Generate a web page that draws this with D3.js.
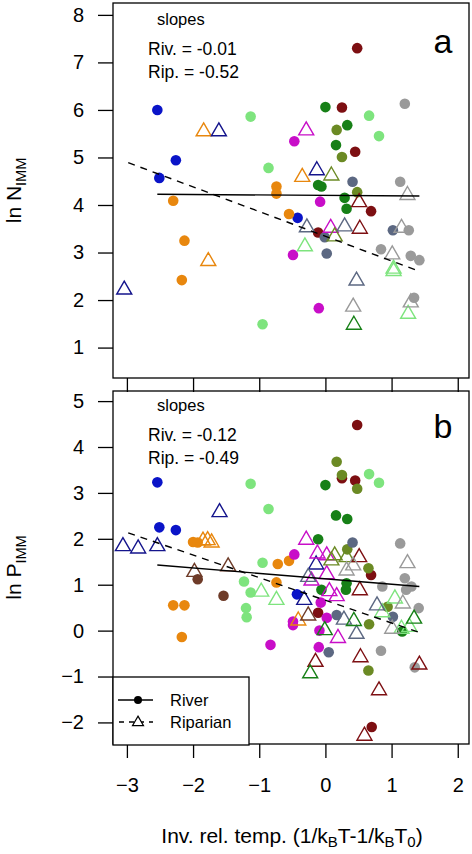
<!DOCTYPE html>
<html><head><meta charset="utf-8">
<script src="https://cdn.jsdelivr.net/npm/d3@7"></script>
<style>body{margin:0;background:#fff}svg{display:block;font-family:"Liberation Sans",Arial,sans-serif}</style>
</head><body><div id="c"></div>
<script>
// ---- data ----
const xTicks = [-3,-2,-1,0,1,2];
const aTicks = [1,2,3,4,5,6,7,8];
const bTicks = [-2,-1,0,1,2,3,4,5];
const slopesA = {riv:"-0.01", rip:"-0.52"};
const slopesB = {riv:"-0.12", rip:"-0.49"};
// fitted lines [x0,y0,x1,y1]
const aRiverLine = [-2.54,4.225,1.42,4.19];
const aRipLine = [-2.98,4.89,1.39,2.62];
const bRiverLine = [-2.54,1.43,1.42,0.96];
const bRipLine = [-2.98,2.13,1.42,-0.04];
// points [x, y, group]
const aRiver = [
 [-2.54,6.0,"blue"],[-2.26,4.94,"blue"],[-2.51,4.57,"blue"],[-0.42,3.73,"blue"],
 [-2.30,4.09,"orange"],[-2.13,3.25,"orange"],[-2.17,2.42,"orange"],[-0.74,4.39,"orange"],[-0.74,4.24,"orange"],[-0.55,3.81,"orange"],
 [-1.13,5.86,"lgreen"],[-0.86,4.78,"lgreen"],[-0.95,1.49,"lgreen"],[0.66,5.88,"lgreen"],[0.81,5.45,"lgreen"],
 [0.0,6.06,"dgreen"],[0.33,5.68,"dgreen"],[0.16,5.26,"dgreen"],[-0.11,4.42,"dgreen"],[-0.06,4.39,"dgreen"],[0.29,4.15,"dgreen"],[0.32,3.92,"dgreen"],
 [0.25,6.05,"dred"],[0.48,7.30,"dred"],[0.45,5.12,"dred"],[0.69,3.87,"dred"],[-0.11,3.42,"dred"],
 [0.17,5.58,"olive"],[0.25,5.01,"olive"],[0.48,4.27,"olive"],
 [-0.47,5.34,"magenta"],[-0.08,4.07,"magenta"],[-0.49,2.95,"magenta"],[-0.10,1.83,"magenta"],
 [0.41,4.49,"slate"],[-0.01,3.32,"slate"],[0.02,2.98,"slate"],[1.02,3.47,"slate"],
 [1.20,6.13,"gray"],[1.13,4.49,"gray"],[1.26,3.47,"gray"],[0.84,3.07,"gray"],[1.29,2.93,"gray"],[1.42,2.84,"gray"],[1.34,2.05,"gray"]
];
const aRiparian = [
 [-1.84,5.56,"orange"],[-1.77,2.83,"orange"],[-0.35,4.60,"orange"],
 [-1.61,5.56,"navy"],[-3.04,2.23,"navy"],[-0.13,4.74,"navy"],
 [-0.29,5.58,"magenta"],[0.08,3.53,"magenta"],
 [0.09,4.63,"olive"],[0.14,3.35,"olive"],
 [0.51,4.07,"dred"],[0.52,3.51,"dred"],
 [-0.28,3.54,"slate"],[0.29,3.56,"slate"],[0.47,2.42,"slate"],
 [-0.31,3.14,"lgreen"],[1.03,2.67,"lgreen"],[1.03,2.62,"lgreen"],[1.25,1.72,"lgreen"],
 [1.24,4.22,"gray"],[1.15,3.53,"gray"],[1.01,2.97,"gray"],[1.29,1.96,"gray"],[0.42,1.87,"gray"],
 [0.43,1.49,"dgreen"]
];
const bRiver = [
 [-2.54,3.23,"blue"],[-2.51,2.25,"blue"],[-2.26,2.19,"blue"],[-0.43,0.79,"blue"],
 [-2.0,1.93,"orange"],[-1.93,1.92,"orange"],[-0.72,1.45,"orange"],[-0.55,1.52,"orange"],[-0.74,1.05,"orange"],[-2.30,0.55,"orange"],[-2.13,0.55,"orange"],[-2.17,-0.14,"orange"],
 [-1.13,3.20,"lgreen"],[-0.86,2.65,"lgreen"],[-0.95,1.48,"lgreen"],[-1.23,1.07,"lgreen"],[-1.13,0.83,"lgreen"],[-1.20,0.49,"lgreen"],[-1.19,0.29,"lgreen"],[0.66,3.41,"lgreen"],[0.81,3.22,"lgreen"],
 [-1.93,1.12,"brown"],[-1.54,0.76,"brown"],
 [0.48,4.48,"dred"],[0.25,3.32,"dred"],[0.45,3.27,"dred"],[0.69,1.21,"dred"],[-0.11,0.39,"dred"],[0.70,-2.10,"dred"],
 [0.17,3.68,"olive"],[0.25,3.39,"olive"],[0.48,3.09,"olive"],[0.33,1.77,"olive"],[0.65,1.36,"olive"],[0.94,0.52,"olive"],[0.66,0.14,"olive"],[0.65,-0.87,"olive"],
 [0.0,3.17,"dgreen"],[0.16,2.51,"dgreen"],[0.33,2.43,"dgreen"],[-0.11,1.99,"dgreen"],[-0.06,0.89,"dgreen"],[0.32,1.03,"dgreen"],[0.31,0.89,"dgreen"],[1.16,-0.02,"dgreen"],
 [-0.47,1.66,"magenta"],[-0.07,0.61,"magenta"],[0.02,0.28,"magenta"],[-0.49,0.20,"magenta"],[-0.49,0.12,"magenta"],[-0.09,0.0,"magenta"],[-0.83,-0.31,"magenta"],[-0.10,-0.36,"magenta"],
 [0.41,1.92,"slate"],[0.17,0.34,"slate"],[1.02,0.30,"slate"],[0.05,-0.47,"slate"],
 [1.13,1.90,"gray"],[0.86,0.96,"gray"],[1.20,1.14,"gray"],[1.22,0.89,"gray"],[1.30,0.96,"gray"],[1.41,0.49,"gray"],[0.84,-0.44,"gray"],[1.35,-0.80,"gray"]
];
const bRiparian = [
 [-1.60,2.59,"navy"],[-3.06,1.85,"navy"],[-2.83,1.80,"navy"],[-2.54,1.85,"navy"],[-0.14,1.45,"navy"],[-0.32,0.68,"navy"],
 [-1.85,1.97,"orange"],[-1.78,1.98,"orange"],[-1.72,1.93,"orange"],[-0.41,0.23,"orange"],
 [-1.98,1.29,"brown"],[-1.47,1.41,"brown"],[-0.26,0.34,"brown"],
 [-0.97,0.86,"lgreen"],[-0.74,0.68,"lgreen"],[0.86,0.41,"lgreen"],[1.05,0.71,"lgreen"],[1.27,0.09,"lgreen"],[1.15,0.05,"lgreen"],
 [-0.29,1.99,"magenta"],[-0.12,1.69,"magenta"],[0.02,1.65,"magenta"],[0.02,1.24,"magenta"],[-0.21,1.10,"magenta"],[0.06,0.87,"magenta"],[0.17,0.76,"magenta"],[0.19,-0.15,"magenta"],
 [0.14,1.65,"olive"],[0.09,1.54,"olive"],[0.32,1.61,"olive"],
 [0.51,1.61,"dred"],[0.52,0.89,"dred"],[-0.15,-0.67,"dred"],[0.53,-0.57,"dred"],[1.42,-0.73,"dred"],[0.81,-1.29,"dred"],[0.59,-2.28,"dred"],
 [1.24,1.48,"gray"],[0.32,1.32,"gray"],[0.42,1.43,"gray"],[1.17,0.60,"gray"],[1.01,0.05,"gray"],
 [-0.26,1.18,"slate"],[0.28,0.25,"slate"],[0.78,0.56,"slate"],[0.47,-0.06,"slate"],
 [0.43,0.22,"dgreen"],[1.34,0.27,"dgreen"],[-0.01,0.02,"dgreen"],[-0.23,-0.92,"dgreen"]
];
// ---- styles ----
const colors = {blue:"#0a14c8",navy:"#14148c",orange:"#e8870e",lgreen:"#7ee47e",dgreen:"#178017",
  dred:"#7d0f12",olive:"#6b8a24",magenta:"#c80ec8",slate:"#5c6882",gray:"#9a9a9a",brown:"#6e3b28"};

const W=472,H=854;
const svg=d3.select("#c").append("svg").attr("width",W).attr("height",H);
const x=d3.scaleLinear().domain([-3.21,2.17]).range([113,469]);
const yA=d3.scaleLinear().domain([0.36,8.25]).range([378,3]);
const yB=d3.scaleLinear().domain([-2.47,5.22]).range([744,391]);
const FS=20;

function tri(cx,cy,s){const h=s*0.866;return `M${cx},${cy-h*0.62}L${cx+s/2},${cy+h*0.38}L${cx-s/2},${cy+h*0.38}Z`;}

function panel(y,ticks,river,rip,rl,pl,sl,letter,labelMain,showXLabels,letterY,slY){
  const g=svg.append("g");
  const ay=g.append("g").attr("transform",`translate(113,0)`).call(d3.axisLeft(y).tickValues(ticks).tickSize(15).tickPadding(14).tickFormat(d3.format("d")));
  ay.select(".domain").remove();
  ay.selectAll("line").attr("stroke","#000").attr("stroke-width",1.3);
  ay.selectAll("text").attr("font-size",FS).attr("font-family","Liberation Sans, Arial").attr("fill","#000");
  const yb=y.range()[0];
  const ax=g.append("g").attr("transform",`translate(0,${yb})`).call(d3.axisBottom(x).tickValues(xTicks).tickSize(14).tickPadding(20).tickFormat(showXLabels?d3.format("d"):""));
  ax.select(".domain").remove();
  ax.selectAll("line").attr("stroke","#000").attr("stroke-width",1.3);
  ax.selectAll("text").attr("font-size",FS).attr("font-family","Liberation Sans, Arial").attr("fill","#000");
  const [r0,r1]=y.range();
  g.append("rect").attr("x",113).attr("y",r1).attr("width",469-113).attr("height",r0-r1).attr("fill","none").attr("stroke","#000").attr("stroke-width",1.3);
  g.selectAll("circle.riv").data(river).join("circle").attr("cx",d=>x(d[0])).attr("cy",d=>y(d[1])).attr("r",5.3).attr("fill",d=>colors[d[2]]);
  g.selectAll("path.rip").data(rip).join("path").attr("d",d=>tri(x(d[0]),y(d[1]),15)).attr("fill","none").attr("stroke",d=>colors[d[2]]).attr("stroke-width",1.4);
  g.append("line").attr("x1",x(rl[0])).attr("y1",y(rl[1])).attr("x2",x(rl[2])).attr("y2",y(rl[3])).attr("stroke","#000").attr("stroke-width",1.4);
  g.append("line").attr("x1",x(pl[0])).attr("y1",y(pl[1])).attr("x2",x(pl[2])).attr("y2",y(pl[3])).attr("stroke","#000").attr("stroke-width",1.4).attr("stroke-dasharray","7,6");
  g.append("text").attr("x",157).attr("y",slY).attr("font-size",16.5).text("slopes");
  g.append("text").attr("x",148).attr("y",slY+30).attr("font-size",17.5).text("Riv. = "+sl.riv);
  g.append("text").attr("x",148).attr("y",slY+53).attr("font-size",17.5).text("Rip. = "+sl.rip);
  g.append("text").attr("x",443).attr("y",letterY).attr("text-anchor","middle").attr("font-size",34).text(letter);
  const cy=(r0+r1)/2;
  const t=g.append("text").attr("transform",`translate(21,${cy}) rotate(-90)`).attr("text-anchor","middle").attr("font-size",21);
  t.append("tspan").text("ln "+labelMain);
  t.append("tspan").attr("font-size",14.5).attr("dy",5).text("IMM");
}
panel(yA,aTicks,aRiver,aRiparian,aRiverLine,aRipLine,slopesA,"a","N",false,53,25);
panel(yB,bTicks,bRiver,bRiparian,bRiverLine,bRipLine,slopesB,"b","P",true,438,411);

const xl=svg.append("text").attr("x",292).attr("y",843).attr("text-anchor","middle").attr("font-size",21);
xl.append("tspan").text("Inv. rel. temp. (1/k");
xl.append("tspan").attr("font-size",15).attr("dy",4).text("B");
xl.append("tspan").attr("dy",-4).text("T-1/k");
xl.append("tspan").attr("font-size",15).attr("dy",4).text("B");
xl.append("tspan").attr("dy",-4).text("T");
xl.append("tspan").attr("font-size",15).attr("dy",4).text("0");
xl.append("tspan").attr("dy",-4).text(")");

const lg=svg.append("g");
lg.append("rect").attr("x",113).attr("y",677).attr("width",136).attr("height",68).attr("fill","#fff").attr("stroke","#000").attr("stroke-width",1.3);
lg.append("line").attr("x1",118).attr("x2",153).attr("y1",700).attr("y2",700).attr("stroke","#000").attr("stroke-width",1.3);
lg.append("circle").attr("cx",138).attr("cy",700).attr("r",4).attr("fill","#000");
lg.append("line").attr("x1",118).attr("x2",153).attr("y1",722).attr("y2",722).attr("stroke","#000").attr("stroke-width",1.3).attr("stroke-dasharray","5,5").attr("stroke-dashoffset",-1);
lg.append("path").attr("d",tri(138,722,11)).attr("fill","#fff").attr("stroke","#000").attr("stroke-width",1.2);
lg.append("text").attr("x",170).attr("y",706).attr("font-size",16.5).text("River");
lg.append("text").attr("x",170).attr("y",728).attr("font-size",16.5).text("Riparian");
</script></body></html>
